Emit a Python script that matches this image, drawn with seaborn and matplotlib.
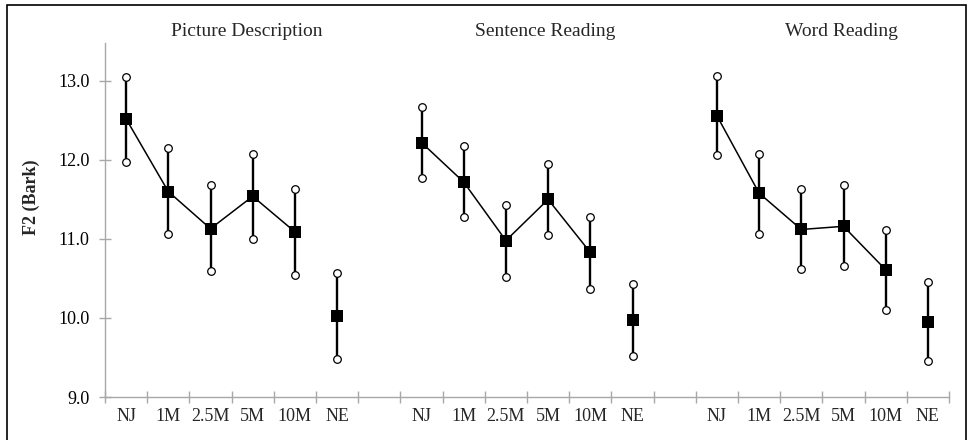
import matplotlib
matplotlib.use("Agg")
from matplotlib import pyplot as plt
from matplotlib.patches import Rectangle
import pandas as pd
import numpy as np
import seaborn as sns

# data
groups = ["NJ", "1M", "2.5M", "5M", "10M", "NE"]
tasks = ["Picture Description", "Sentence Reading", "Word Reading"]

picture_mean = [12.52, 11.60, 11.13, 11.54, 11.09, 10.02]
picture_hi = [13.05, 12.15, 11.68, 12.08, 11.63, 10.57]
picture_lo = [11.97, 11.06, 10.59, 11.00, 10.54, 9.48]

sentence_mean = [12.22, 11.72, 10.98, 11.50, 10.83, 9.97]
sentence_hi = [12.67, 12.18, 11.43, 11.95, 11.28, 10.43]
sentence_lo = [11.77, 11.28, 10.52, 11.05, 10.37, 9.52]

word_mean = [12.56, 11.58, 11.12, 11.16, 10.61, 9.95]
word_hi = [13.06, 12.08, 11.63, 11.68, 11.11, 10.46]
word_lo = [12.06, 11.06, 10.62, 10.66, 10.10, 9.45]

y_ticks = [9.0, 10.0, 11.0, 12.0, 13.0]

# build a long table, one slot per group, one empty slot between tasks
rows = []
for t, (task, m, hi, lo) in enumerate(zip(tasks,
                                          [picture_mean, sentence_mean, word_mean],
                                          [picture_hi, sentence_hi, word_hi],
                                          [picture_lo, sentence_lo, word_lo])):
    for g, group in enumerate(groups):
        rows.append({"task": task, "group": group, "x": t * 7 + g + 0.5,
                     "mean": m[g], "hi": hi[g], "lo": lo[g],
                     "connected": group != "NE"})
df = pd.DataFrame(rows)

sns.set_theme(style="white")
plt.rcParams["font.family"] = ["Liberation Serif", "DejaVu Serif"]

fig = plt.figure(figsize=(9.69, 4.4), dpi=100)
ax = fig.add_axes([105 / 969, 1 - 397 / 440, (949 - 105) / 969, (397 - 43) / 440])

ax.vlines(df["x"], df["lo"], df["hi"], color="black", linewidth=1.7, zorder=2)
sns.lineplot(data=df[df["connected"]], x="x", y="mean", units="task",
             estimator=None, color="black", linewidth=1.1, sort=True, ax=ax, zorder=3)
sns.scatterplot(data=df, x="x", y="mean", marker="s", s=70, color="black",
                edgecolor="black", linewidth=0, ax=ax, zorder=4)
circ = pd.concat([df[["x", "hi"]].rename(columns={"hi": "y"}),
                  df[["x", "lo"]].rename(columns={"lo": "y"})])
sns.scatterplot(data=circ, x="x", y="y", marker="o", s=30, color="white",
                edgecolor="black", linewidth=0.9, ax=ax, zorder=5)

ax.set_xlim(0, 20)
ax.set_ylim(9.0, 13.48)
ax.set_yticks(y_ticks)
ax.set_yticklabels([f"{v:.1f}" for v in y_ticks])
ax.set_xticks(np.arange(0, 21))
ax.set_xticklabels([])
ax.set_xticks(df["x"], minor=True)
ax.set_xticklabels(df["group"], minor=True)
ax.set_xlabel("")
ax.set_ylabel("F2 (Bark)", fontsize=13, fontweight="bold")
ax.yaxis.set_label_coords(-0.077, 0.565)

spine_c = "#a8a8a8"
for side in ["top", "right"]:
    ax.spines[side].set_visible(False)
for side in ["left", "bottom"]:
    ax.spines[side].set_color(spine_c)
    ax.spines[side].set_linewidth(1.0)
ax.tick_params(axis="both", which="major", direction="inout", length=8,
               width=1.0, color=spine_c, labelsize=13, labelcolor="black",
               bottom=True, left=True)
ax.tick_params(axis="y", pad=7)
ax.tick_params(axis="x", which="minor", length=0, pad=8, labelsize=13, bottom=True)

for task, xpos in zip(tasks, [3.36, 10.43, 17.46]):
    ax.text(xpos, 13.62, task, ha="center", va="center", fontsize=14, clip_on=False)

fig.add_artist(Rectangle((7 / 969, -0.05), (966 - 7) / 969, 1.05 - 5.5 / 440,
                         transform=fig.transFigure, fill=False,
                         edgecolor="black", linewidth=1.2))

fig.savefig("out.png", dpi=100)
